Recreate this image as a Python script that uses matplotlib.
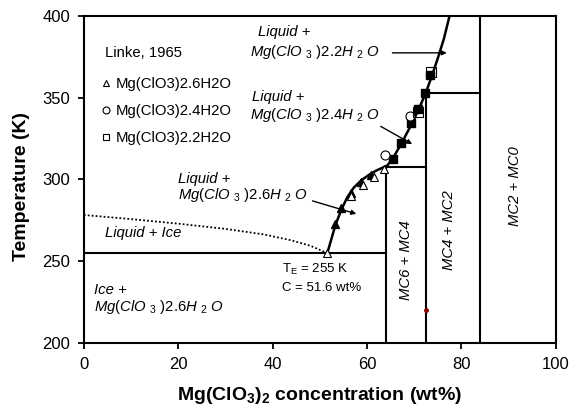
import numpy as np
import matplotlib
matplotlib.use('Agg')
import matplotlib.pyplot as plt
from matplotlib.lines import Line2D

plt.rcParams['font.family'] = ['Liberation Sans', 'DejaVu Sans']
plt.rcParams['mathtext.fontset'] = 'custom'
plt.rcParams['mathtext.rm'] = 'Liberation Sans'
plt.rcParams['mathtext.it'] = 'Liberation Sans:italic'
plt.rcParams['mathtext.bf'] = 'Liberation Sans:bold'

# liquidus (solid curve)
liq_x = [51.6, 52.4, 53.3, 54.5, 55.8, 57.2, 58.8, 60.5, 62.0, 63.3, 64.3, 65.5, 67.3, 69.4, 70.9, 72.4, 73.6, 75.0, 76.3, 77.5]
liq_T = [255, 263, 272, 281, 289, 295, 299.5, 303, 305.5, 307.2, 308.5, 313, 322, 333.5, 342.5, 352.5, 362, 374, 386, 400]

# ice liquidus (dotted)
ice_x = [0, 10, 20, 30, 38, 44, 48, 51.6]
ice_T = [278.3, 275.8, 273.0, 269.8, 266.5, 262.8, 259.5, 255]

# Linke, 1965 (open markers)
tri_open_x = [51.6, 56.7, 59.2, 61.5, 63.6]
tri_open_T = [255, 290, 296.5, 301.5, 306.5]
circ_x = [63.8, 69.1]
circ_T = [315, 338.8]
sq_open_x = [70.9, 73.5]
sq_open_T = [341.5, 366]

# other data (filled markers)
tri_fill_x = [53.2, 54.6, 56.6, 58.7, 60.8]
tri_fill_T = [272.5, 282.4, 292, 298.3, 302.8]
sq_fill_x = [65.5, 67.3, 69.4, 70.8, 72.4, 73.4]
sq_fill_T = [312.4, 322.5, 334.4, 343, 353, 363.9]

# phase boundaries
eut_T = 255
mc6_x, mc6_T = 64, 307.5
mc4_x, mc4_T = 72.5, 353
mc2_x = 84

fs = 10.7

def hyd(n):
    # italic Mg(ClO3)2.nH2O with spaced subscripts like the original
    return (r'$\mathit{Mg(ClO}\ {}_{\mathit{3}}\ \mathit{)2.' + n +
            r'H}\ {}_{\mathit{2}}\ \mathit{O}$')

fig, ax = plt.subplots(figsize=(5.7, 4.07), dpi=100)
fig.subplots_adjust(left=0.147, right=0.975, top=0.961, bottom=0.157)

lw = 1.5
ax.plot([0, mc6_x], [eut_T, eut_T], color='black', lw=lw)
ax.plot([mc6_x, mc6_x], [200, mc6_T], color='black', lw=lw)
ax.plot([mc6_x, mc4_x], [mc6_T, mc6_T], color='black', lw=lw)
ax.plot([mc4_x, mc4_x], [200, mc4_T], color='black', lw=lw)
ax.plot([mc4_x, mc2_x], [mc4_T, mc4_T], color='black', lw=lw)
ax.plot([mc2_x, mc2_x], [200, 400], color='black', lw=lw)

ax.plot(ice_x, ice_T, color='black', lw=1.3, linestyle=(0, (1, 1.2)))
ax.plot(liq_x, liq_T, color='black', lw=1.8)

ms = 5.5
ax.plot(tri_fill_x, tri_fill_T, '^', color='black', ms=ms, ls='none')
ax.plot(sq_fill_x, sq_fill_T, 's', color='black', ms=ms, ls='none')
ax.plot(tri_open_x, tri_open_T, '^', mfc='white', mec='black', mew=0.8, ms=ms, ls='none')
ax.plot(circ_x, circ_T, 'o', mfc='white', mec='black', mew=0.8, ms=ms + 1, ls='none')
ax.plot(sq_open_x, sq_open_T, 's', mfc='none', mec='black', mew=0.8, ms=ms + 1, ls='none')

ax.plot([mc4_x], [220], 'o', color='#8b0000', ms=2.5)

# legend
ax.text(4.4, 377.5, 'Linke, 1965', fontsize=fs, va='center')
handles = [Line2D([], [], marker='^', mfc='white', mec='black', mew=0.8, ms=5, ls='none'),
           Line2D([], [], marker='o', mfc='white', mec='black', mew=0.8, ms=5, ls='none'),
           Line2D([], [], marker='s', mfc='white', mec='black', mew=0.8, ms=5, ls='none')]
labels = ['Mg(ClO3)2.6H2O', 'Mg(ClO3)2.4H2O', 'Mg(ClO3)2.2H2O']
ax.legend(handles, labels, loc='upper left', bbox_to_anchor=(0.037, 0.814), frameon=False,
          fontsize=fs, handlelength=0.6, handletextpad=0.4, labelspacing=0.9,
          borderaxespad=0, borderpad=0)

# region labels
arrow = dict(arrowstyle='-|>', color='black', lw=1, mutation_scale=7)
ax.text(36.9, 390.2, 'Liquid +', fontsize=fs, style='italic', va='center')
ax.text(35.2, 378, hyd('2'), fontsize=fs, va='center')
ax.annotate('', xy=(77.5, 377.4), xytext=(64.8, 377.4), arrowprops=arrow)

ax.text(35.6, 350.5, 'Liquid +', fontsize=fs, style='italic', va='center')
ax.text(35.2, 339.4, hyd('4'), fontsize=fs, va='center')
ax.annotate('', xy=(70.1, 320.8), xytext=(62.4, 333.3), arrowprops=arrow)

ax.text(19.9, 300.3, 'Liquid +', fontsize=fs, style='italic', va='center')
ax.text(19.9, 290.5, hyd('6'), fontsize=fs, va='center')
ax.annotate('', xy=(58.3, 278.5), xytext=(47.9, 287.4), arrowprops=arrow)

ax.text(4.4, 267.3, 'Liquid + Ice', fontsize=fs, style='italic', va='center')
ax.text(2.2, 232.4, 'Ice +', fontsize=fs, style='italic', va='center')
ax.text(2.2, 222.2, hyd('6'), fontsize=fs, va='center')

ax.text(41.9, 245, r'T$_\mathrm{E}$ = 255 K', fontsize=9.5, va='center')
ax.text(41.9, 233.8, 'C = 51.6 wt%', fontsize=9.5, va='center')

ax.text(68.3, 251, 'MC6 + MC4', fontsize=fs, style='italic', rotation=90, ha='center', va='center')
ax.text(77.3, 269, 'MC4 + MC2', fontsize=fs, style='italic', rotation=90, ha='center', va='center')
ax.text(91.3, 296, 'MC2 + MC0', fontsize=fs, style='italic', rotation=90, ha='center', va='center')

ax.set_xlim(0, 100)
ax.set_ylim(200, 400)
ax.set_xticks([0, 20, 40, 60, 80, 100])
ax.set_yticks([200, 250, 300, 350, 400])
ax.tick_params(labelsize=12, direction='out', length=4, width=1.3, pad=6)
for s in ax.spines.values():
    s.set_linewidth(1.5)

ax.set_xlabel(r'$\mathbf{Mg(ClO_3)_2}$ concentration (wt%)', fontsize=14, fontweight='bold')
ax.set_ylabel('Temperature (K)', fontsize=14, fontweight='bold')
ax.xaxis.set_label_coords(0.5, -0.128)
ax.yaxis.set_label_coords(-0.114, 0.48)

fig.savefig('out.png', dpi=100)
